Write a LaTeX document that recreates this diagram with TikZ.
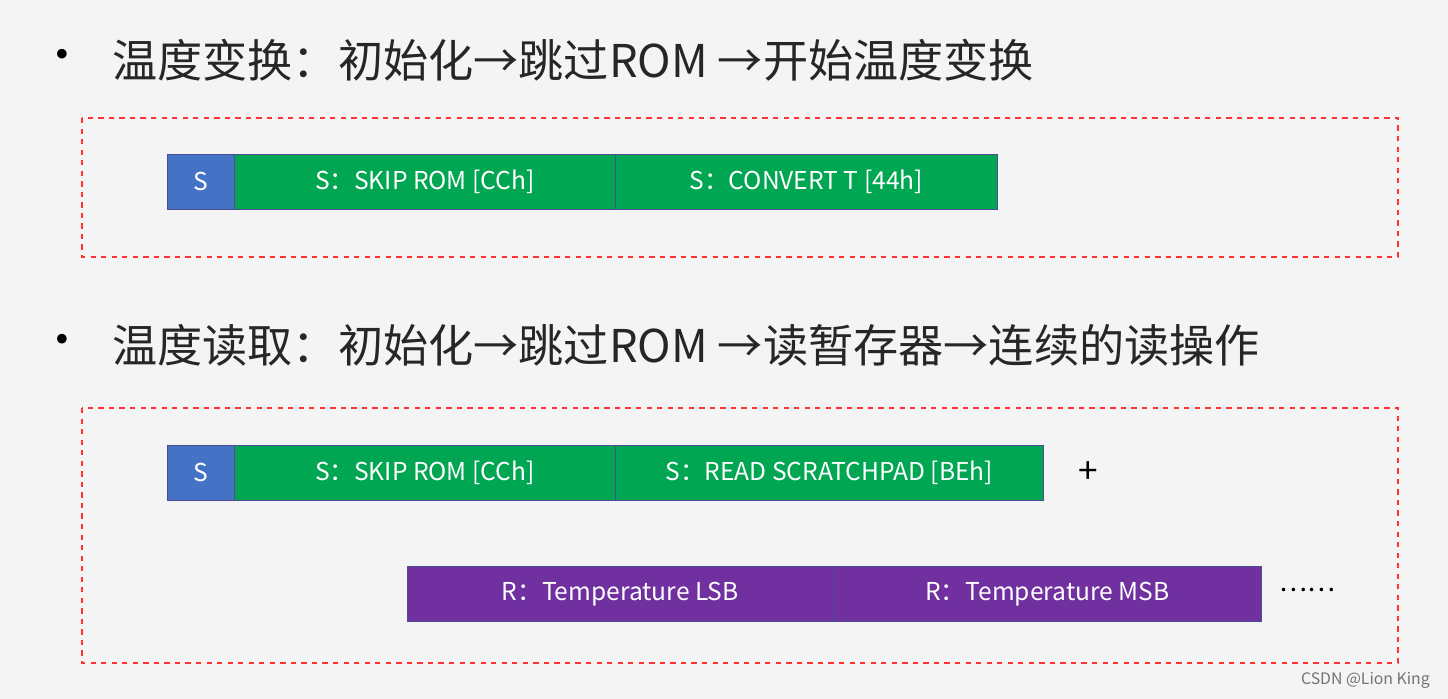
\documentclass[tikz,border=0pt]{standalone}
\usepackage{fontspec}
\setmainfont{Noto Sans CJK SC}
\usetikzlibrary{positioning}
\definecolor{sblue}{HTML}{4472C4}
\definecolor{sgreen}{HTML}{00A651}
\definecolor{rpurple}{HTML}{7030A0}
\definecolor{bggray}{HTML}{F4F4F4}
\tikzset{
  frame/.style={draw=red!80, dashed, thick},
  cell/.style={anchor=north west, inner sep=0pt, minimum height=1.1cm, draw=blue!40!black!70, text=white, font=\fontsize{14}{16}\selectfont},
  title/.style={anchor=west, inner sep=0pt, font=\fontsize{25.7}{30}\selectfont, text=black!85}
}
\begin{document}
\begin{tikzpicture}[x=0.02cm,y=-0.02cm]
\fill[bggray] (0,0) rectangle (1448,699);
\useasboundingbox (0,0) rectangle (1448,699);
% first part
\node (dot1) at (62,60) {\fontsize{26}{26}\selectfont •};
\node (head1) [title] at (112,60) {温度变换：初始化→跳过ROM →开始温度变换};
\draw[frame] (82,118) rectangle (1398,257);
\node (s1) [cell, fill=sblue, minimum width=1.34cm] at (167,154) {S};
\node (skip1) [cell, fill=sgreen, minimum width=7.62cm] at (234,154) {S：SKIP ROM [CCh]};
\node (conv) [cell, fill=sgreen, minimum width=7.64cm] at (615,154) {S：CONVERT T [44h]};
% second part
\node (dot2) at (62,345) {\fontsize{26}{26}\selectfont •};
\node (head2) [title] at (112,345) {温度读取：初始化→跳过ROM →读暂存器→连续的读操作};
\draw[frame] (82,408) rectangle (1398,663);
\node (s2) [cell, fill=sblue, minimum width=1.34cm] at (167,445) {S};
\node (skip2) [cell, fill=sgreen, minimum width=7.62cm] at (234,445) {S：SKIP ROM [CCh]};
\node (read) [cell, fill=sgreen, minimum width=8.56cm] at (615,445) {S：READ SCRATCHPAD [BEh]};
\node (plus) at (1088,473) {\fontsize{20}{20}\selectfont +};
\node (lsb) [cell, fill=rpurple, minimum width=8.52cm] at (407,566) {R：Temperature LSB};
\node (msb) [cell, fill=rpurple, minimum width=8.56cm] at (833,566) {R：Temperature MSB};
\node (more) at (1307,590) {\fontsize{15}{15}\selectfont ……};
\node (mark) [anchor=east, text=black!55, font=\fontsize{9}{11}\selectfont] at (1436,680) {CSDN @Lion King};
\end{tikzpicture}
\end{document}
